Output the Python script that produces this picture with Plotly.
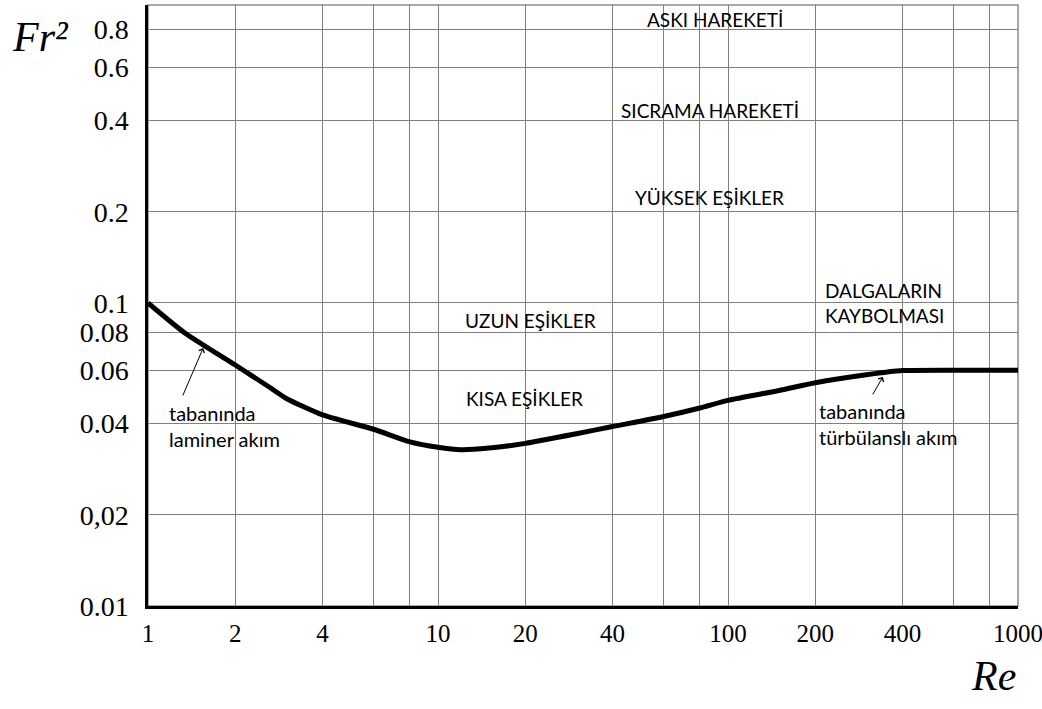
import numpy as np
import plotly.graph_objects as go

# Curve: critical Froude^2 vs Reynolds
re_vals = [1, 1.34, 2, 2.6, 3, 4, 6, 8, 10, 12, 15, 20, 30, 40, 60, 80, 100, 150, 200, 300, 400, 600, 800, 1000]
fr2_vals = [0.1, 0.0796, 0.0624, 0.053, 0.0484, 0.0427, 0.0383, 0.0348, 0.0334, 0.0328, 0.0332, 0.0344,
            0.037, 0.0391, 0.0422, 0.045, 0.0477, 0.0514, 0.0545, 0.0579, 0.0598, 0.06, 0.06, 0.06]

# Axis ticks
x_tickvals = [1, 2, 4, 6, 8, 10, 20, 40, 60, 80, 100, 200, 400, 600, 800, 1000]
x_ticktext = ["1", "2", "4", "", "", "10", "20", "40", "", "", "100", "200", "400", "", "", "1000"]
y_tickvals = [0.01, 0.02, 0.04, 0.06, 0.08, 0.1, 0.2, 0.4, 0.6, 0.8]
y_ticktext = ["0.01", "0,02", "0.04", "0.06", "0.08", "0.1", "0.2", "0.4", "0.6", "0.8"]

# Region labels (Re, Fr2)
region_text = ["ASKI HAREKETİ", "SICRAMA HAREKETİ", "YÜKSEK EŞİKLER", "DALGALARIN<br>KAYBOLMASI",
               "UZUN EŞİKLER", "KISA EŞİKLER"]
region_re = [90, 87, 86.5, 346, 20.9, 19.8]
region_fr2 = [0.86, 0.431, 0.222, 0.1, 0.0873, 0.0482]

# Flow notes (left-anchored) and arrow heads
note_text = ["tabanında<br>laminer akım", "tabanında<br>türbülanslı akım"]
note_re = [1.16, 202]
note_fr2 = [0.0393, 0.040]
arrow_re = [1.55, 342]
arrow_fr2 = [0.071, 0.057]
arrow_dx = [-21, -11]
arrow_dy = [49, 19]

fig = go.Figure()
fig.add_trace(go.Scatter(x=re_vals, y=fr2_vals, mode="lines",
                         line=dict(color="black", width=5, shape="spline", smoothing=0.6),
                         showlegend=False, hoverinfo="skip"))

sans = "Lato, 'Open Sans', sans-serif"
serif = "'Liberation Serif', 'Times New Roman', serif"
annotations = []
for t, xv, yv in zip(region_text, region_re, region_fr2):
    annotations.append(dict(x=np.log10(xv), y=np.log10(yv), xref="x", yref="y", text=t,
                            showarrow=False, xanchor="center", yanchor="middle", align="left",
                            font=dict(family=sans, size=19, color="black")))
for t, xv, yv in zip(note_text, note_re, note_fr2):
    annotations.append(dict(x=np.log10(xv), y=np.log10(yv), xref="x", yref="y", text=t,
                            showarrow=False, xanchor="left", yanchor="middle", align="left",
                            font=dict(family=sans, size=20, color="black")))
for xv, yv, dx, dy in zip(arrow_re, arrow_fr2, arrow_dx, arrow_dy):
    annotations.append(dict(x=np.log10(xv), y=np.log10(yv), xref="x", yref="y", text="",
                            showarrow=True, ax=dx, ay=dy, arrowhead=4, arrowsize=1.2,
                            arrowwidth=1, arrowcolor="black", standoff=0))
annotations.append(dict(x=-0.123, y=0.947, xref="paper", yref="paper", text="<i>Fr²</i>",
                        showarrow=False, xanchor="center", yanchor="middle",
                        font=dict(family=serif, size=42, color="black")))
annotations.append(dict(x=1.0, y=-0.1165, xref="paper", yref="paper", text="<i>Re</i>",
                        showarrow=False, xanchor="right", yanchor="middle",
                        font=dict(family=serif, size=42, color="black")))

fig.update_layout(
    width=1042, height=709,
    margin=dict(l=148, r=24, t=5, b=103, autoexpand=False),
    paper_bgcolor="white", plot_bgcolor="white",
    annotations=annotations,
    shapes=[dict(type="rect", xref="paper", yref="paper", x0=0, y0=0, x1=1, y1=1,
                 line=dict(color="#8c8c8c", width=1.5), layer="below")],
)
fig.update_xaxes(type="log", range=[0, 3], tickvals=x_tickvals, ticktext=x_ticktext,
                 showgrid=True, gridcolor="#808080", gridwidth=1, zeroline=False,
                 showline=True, linecolor="black", linewidth=2.5, ticks="",
                 ticklabelstandoff=3, ticklabeloverflow="allow", automargin=False,
                 tickfont=dict(family=serif, size=25, color="black"))
fig.update_yaxes(type="log", range=[-2, -0.017], tickvals=y_tickvals, ticktext=y_ticktext,
                 showgrid=True, gridcolor="#808080", gridwidth=1, zeroline=False,
                 showline=True, linecolor="black", linewidth=2.5, ticks="",
                 ticklabelstandoff=11, automargin=False,
                 tickfont=dict(family=serif, size=28, color="black"))

fig.write_html("out.html")
